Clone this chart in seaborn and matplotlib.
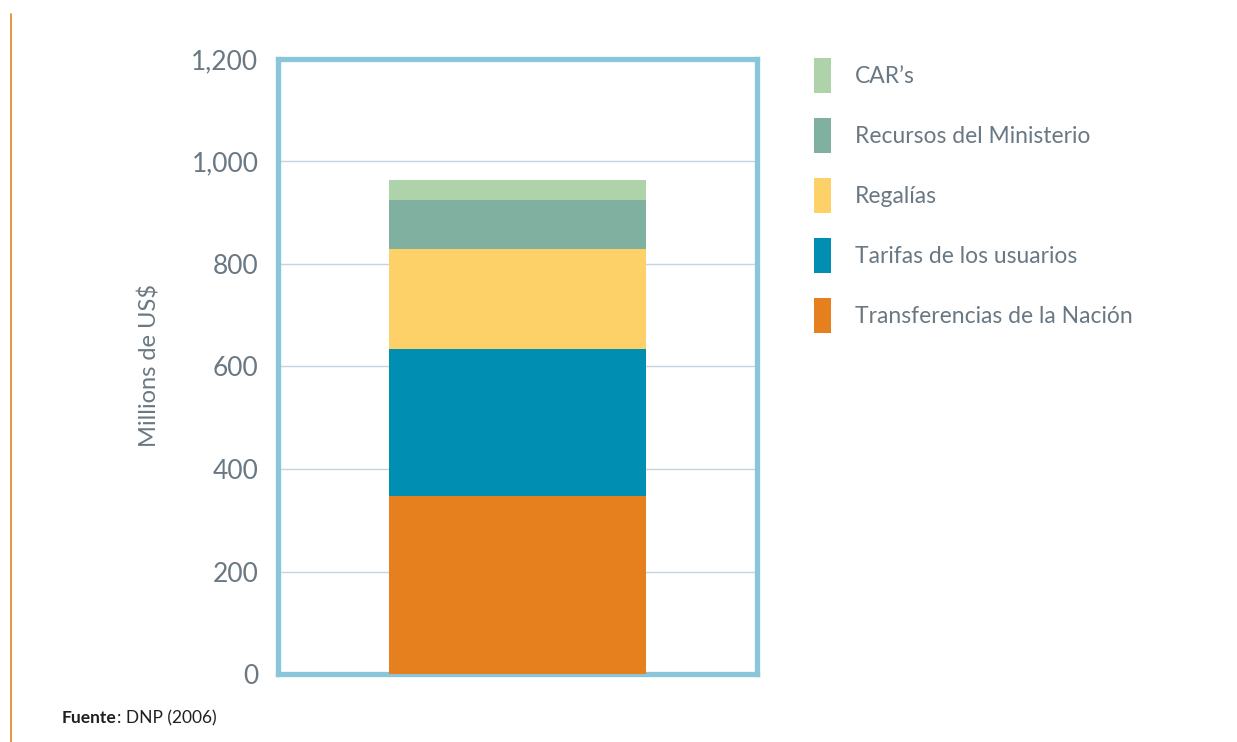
import pandas as pd
import matplotlib.pyplot as plt
import seaborn as sns
from matplotlib.patches import Patch
from matplotlib.lines import Line2D

# sources, bottom to top of the stack
fuentes = ["Transferencias de la Nación", "Tarifas de los usuarios", "Regalías",
           "Recursos del Ministerio", "CAR’s"]
valores = [348, 286, 195, 96, 39]
colores = ["#E6801E", "#008EB3", "#FED068", "#7FB0A0", "#AED3AA"]
yticks = [0, 200, 400, 600, 800, 1000, 1200]

sns.set_theme(style="white")
plt.rcParams['font.family'] = ['Lato', 'DejaVu Sans']

text_col = "#6A7883"

fig = plt.figure(figsize=(12.37, 7.42), dpi=100)
ax = fig.add_axes([0.2247, 0.0916, 0.3872, 0.829])

# cumulative tops, drawn from the top down so each segment covers the lower part of the one above
df = pd.DataFrame({"fuente": fuentes, "valor": valores})
df["tope"] = df["valor"].cumsum()
df["grupo"] = "total"

for i in range(len(df) - 1, -1, -1):
    sns.barplot(data=df.iloc[[i]], x="grupo", y="tope", color=colores[i],
                width=0.537, saturation=1, linewidth=0, ax=ax, zorder=3)

ax.set_xlim(-0.5, 0.5)
ax.set_ylim(0, 1200)
ax.set_yticks(yticks)
ax.set_yticklabels([f"{t:,}" for t in yticks])
ax.set_xticks([])
ax.set_xlabel("")
ax.set_ylabel("Millions de US$", fontsize=17, color=text_col)
ax.yaxis.set_label_coords(-0.245, 0.502)
ax.tick_params(axis="y", length=0, pad=14, labelsize=19, labelcolor=text_col)

ax.yaxis.grid(True, color="#C5D5DE", linewidth=1, zorder=0)
ax.set_axisbelow(True)
for s in ax.spines.values():
    s.set_color("#8AC6DA")
    s.set_linewidth(3.8)
    s.set_visible(True)

handles = [Patch(facecolor=c, edgecolor="none") for c in colores][::-1]
labels = fuentes[::-1]
fig.legend(handles, labels, loc="upper left", bbox_to_anchor=(0.658, 0.9213),
           frameon=False, fontsize=16.5, labelcolor=text_col, borderpad=0,
           handlelength=0.74, handleheight=1.95, labelspacing=1.10,
           handletextpad=1.05, borderaxespad=0)

# orange rule on the left edge
fig.add_artist(Line2D([0.0089, 0.0089], [0.0, 0.981], color="#E6801E", linewidth=1.2))

t = fig.text(0.05, 0.032, "Fuente", fontsize=12.5, fontweight="bold", color="#231F20",
             va="center")
fig.canvas.draw()
bb = t.get_window_extent()
fig.text(bb.x1 / fig.bbox.width, 0.032, ": DNP (2006)", fontsize=12.5, color="#231F20",
         va="center")

fig.savefig("out.png", dpi=100)
